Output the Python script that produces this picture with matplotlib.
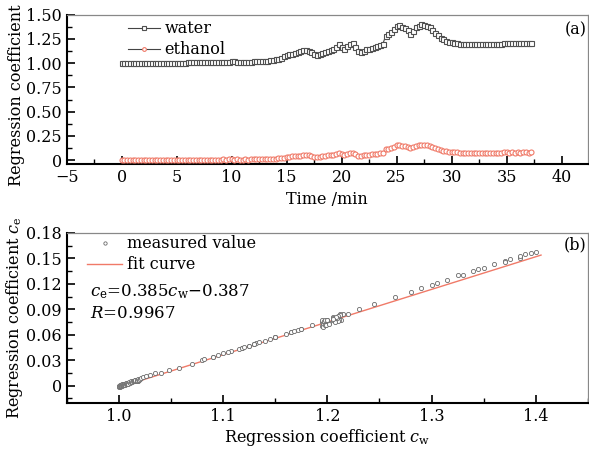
import numpy as np
import matplotlib
matplotlib.use("Agg")
import matplotlib.pyplot as plt
from matplotlib.ticker import MultipleLocator, FixedLocator, FixedFormatter

plt.rcParams['font.family'] = ['DejaVu Serif']
plt.rcParams['mathtext.fontset'] = 'dejavuserif'

# ---- data ----
time_min = np.arange(0, 37.26, 0.25)

water = [
    1.006, 1.005, 1.004, 1.003, 1.002, 1.001, 1.000, 1.000, 1.000, 1.001,
    1.001, 1.002, 1.002, 1.002, 1.003, 1.003, 1.004, 1.004, 1.005, 1.005,
    1.006, 1.006, 1.007, 1.007, 1.008, 1.008, 1.009, 1.009, 1.010, 1.011,
    1.012, 1.012, 1.013, 1.014, 1.015, 1.015, 1.016, 1.016, 1.017, 1.017,
    1.018, 1.018, 1.017, 1.017, 1.016, 1.016, 1.017, 1.017, 1.018, 1.019,
    1.020, 1.021, 1.023, 1.026, 1.030, 1.035,
    1.040, 1.048, 1.058, 1.070, 1.080, 1.090, 1.100, 1.108,
    1.118, 1.125, 1.132, 1.134, 1.130, 1.115, 1.095, 1.082,
    1.090, 1.105, 1.118, 1.130, 1.140, 1.150, 1.172, 1.195,
    1.165, 1.150, 1.175, 1.200, 1.205, 1.165, 1.125, 1.120,
    1.130, 1.145, 1.150, 1.160, 1.168, 1.175, 1.185, 1.198,
    1.280, 1.300, 1.325, 1.350, 1.385, 1.390, 1.375, 1.360,
    1.340, 1.305, 1.330, 1.370, 1.385, 1.400, 1.395, 1.385,
    1.370, 1.345, 1.315, 1.290, 1.265, 1.245, 1.230, 1.220,
    1.215, 1.210, 1.205, 1.202, 1.200, 1.198, 1.197, 1.196,
    1.196, 1.195, 1.195, 1.196, 1.196, 1.197, 1.198, 1.198,
    1.199, 1.200, 1.202, 1.205, 1.212, 1.213, 1.212, 1.211,
    1.210, 1.210, 1.209, 1.208, 1.207, 1.205,
]

ethanol = [
    0.002, 0.001, 0.001, 0.000, 0.000, -0.001, -0.001, 0.000, 0.000, 0.000,
    0.001, 0.001, 0.000, 0.001, 0.001, 0.002, 0.001, 0.002, 0.002, 0.002,
    0.002, 0.001, 0.002, 0.003, 0.002, 0.003, 0.003, 0.002, 0.004, 0.003,
    0.004, 0.005, 0.004, 0.005, 0.006, 0.005, 0.006, 0.007, 0.006, 0.007,
    0.007, 0.006, 0.007, 0.006, 0.006, 0.007, 0.006, 0.007, 0.008, 0.007,
    0.008, 0.009, 0.010, 0.011, 0.013, 0.015,
    0.015, 0.018, 0.021, 0.026, 0.030, 0.034, 0.038, 0.041,
    0.045, 0.047, 0.050, 0.051, 0.049, 0.043, 0.036, 0.031,
    0.034, 0.040, 0.045, 0.049, 0.053, 0.057, 0.066, 0.075,
    0.063, 0.057, 0.067, 0.077, 0.078, 0.063, 0.047, 0.046,
    0.049, 0.055, 0.057, 0.061, 0.064, 0.067, 0.071, 0.076,
    0.110, 0.119, 0.130, 0.139, 0.152, 0.155, 0.149, 0.143,
    0.135, 0.121, 0.131, 0.147, 0.151, 0.157, 0.156, 0.153,
    0.146, 0.137, 0.125, 0.115, 0.105, 0.096, 0.090, 0.085,
    0.084, 0.079, 0.081, 0.074, 0.078, 0.071, 0.076, 0.070,
    0.075, 0.070, 0.077, 0.072, 0.069, 0.076, 0.071, 0.077,
    0.072, 0.078, 0.073, 0.080, 0.084, 0.078, 0.083, 0.077,
    0.082, 0.076, 0.080, 0.081, 0.075, 0.079,
]

fit_slope = 0.385
fit_intercept = -0.387
fit_range = [1.0, 1.405]

top_xticks = [-5, 0, 5, 10, 15, 20, 25, 30, 35, 40]
top_xlabels = ["\u22125", "0", "5", "10", "15", "20", "25", "30", "35", "40"]
top_yticks = [0, 0.25, 0.50, 0.75, 1.00, 1.25, 1.50]
top_ylabels = ["0", "0.25", "0.50", "0.75", "1.00", "1.25", "1.50"]
bot_yticks = [0, 0.03, 0.06, 0.09, 0.12, 0.15, 0.18]
bot_ylabels = ["0", "0.03", "0.06", "0.09", "0.12", "0.15", "0.18"]
bot_xticks = [1.0, 1.1, 1.2, 1.3, 1.4]
bot_xlabels = ["1.0", "1.1", "1.2", "1.3", "1.4"]

FS = 11.5
RED = '#F07A68'
GRAY = '#444444'

fig = plt.figure(figsize=(5.89, 4.55), dpi=100)
ax1 = fig.add_axes([0.1132, 0.6396, 0.885, 0.328])
ax2 = fig.add_axes([0.1132, 0.115, 0.885, 0.373])


def style(ax):
    for s in ['left', 'bottom']:
        ax.spines[s].set_linewidth(1.5)
        ax.spines[s].set_color('black')
    for s in ['top', 'right']:
        ax.spines[s].set_linewidth(0.9)
        ax.spines[s].set_color('#888888')
    ax.tick_params(which='both', direction='in', top=False, right=False,
                   labelsize=FS, colors='black')
    ax.tick_params(which='major', length=6, width=1.2)
    ax.tick_params(which='minor', length=3.5, width=1.0)


# ---- panel (a) ----
ax1.plot(time_min, water, '-', color=GRAY, lw=0.8, marker='s', ms=3.6,
         mfc='white', mec='#505050', mew=0.8, label='water', zorder=3)
ax1.plot(time_min, ethanol, '-', color=GRAY, lw=0.8, marker='o', ms=3.6,
         mfc='white', mec=RED, mew=0.8, label='ethanol', zorder=3)
ax1.set_xlim(-5, 42.4)
ax1.set_ylim(-0.04, 1.5)
ax1.xaxis.set_major_locator(FixedLocator(top_xticks))
ax1.xaxis.set_major_formatter(FixedFormatter(top_xlabels))
ax1.xaxis.set_minor_locator(MultipleLocator(2.5))
ax1.yaxis.set_major_locator(FixedLocator(top_yticks))
ax1.yaxis.set_major_formatter(FixedFormatter(top_ylabels))
ax1.yaxis.set_minor_locator(MultipleLocator(0.125))
style(ax1)
ax1.set_xlabel('Time /min', fontsize=FS, labelpad=4)
ax1.set_ylabel('Regression coefficient', fontsize=FS)
ax1.yaxis.set_label_coords(-0.08, 0.46)
ax1.legend(loc='upper left', bbox_to_anchor=(0.09, 1.06), frameon=False,
           fontsize=FS, handlelength=2.0, handletextpad=0.3,
           labelspacing=0.25, markerscale=0.75)
ax1.text(0.997, 0.9, '(a)', transform=ax1.transAxes, ha='right', va='center',
         fontsize=FS)

# ---- panel (b) ----
ax2.plot(water, ethanol, 'o', ls='none', ms=3.0, mfc='white', mec='#6a6a6a',
         mew=0.6, label='measured value', zorder=3)
fx = np.array(fit_range)
ax2.plot(fx, fit_slope * fx + fit_intercept, '-', color=RED, lw=1.0,
         label='fit curve', zorder=2)
ax2.set_xlim(0.95, 1.45)
ax2.set_ylim(-0.02, 0.18)
ax2.xaxis.set_major_locator(FixedLocator(bot_xticks))
ax2.xaxis.set_major_formatter(FixedFormatter(bot_xlabels))
ax2.xaxis.set_minor_locator(MultipleLocator(0.05))
ax2.yaxis.set_major_locator(FixedLocator(bot_yticks))
ax2.yaxis.set_major_formatter(FixedFormatter(bot_ylabels))
ax2.yaxis.set_minor_locator(MultipleLocator(0.015))
style(ax2)
ax2.set_xlabel(r'Regression coefficient $c_\mathrm{w}$', fontsize=FS, labelpad=2)
ax2.set_ylabel(r'Regression coefficient $c_\mathrm{e}$', fontsize=FS)
ax2.yaxis.set_label_coords(-0.08, 0.5)
ax2.legend(loc='upper left', bbox_to_anchor=(0.012, 1.07), frameon=False,
           fontsize=FS, handlelength=2.2, handletextpad=0.3,
           labelspacing=0.25, markerscale=0.8)
ax2.text(0.045, 0.652, r'$c_\mathrm{e}$=0.385$c_\mathrm{w}$$-$0.387',
         transform=ax2.transAxes, ha='left', va='center', fontsize=12)
ax2.text(0.045, 0.528, r'$R$=0.9967', transform=ax2.transAxes, ha='left',
         va='center', fontsize=12)
ax2.text(0.997, 0.93, '(b)', transform=ax2.transAxes, ha='right', va='center',
         fontsize=FS)

fig.savefig('out.png', dpi=100)
